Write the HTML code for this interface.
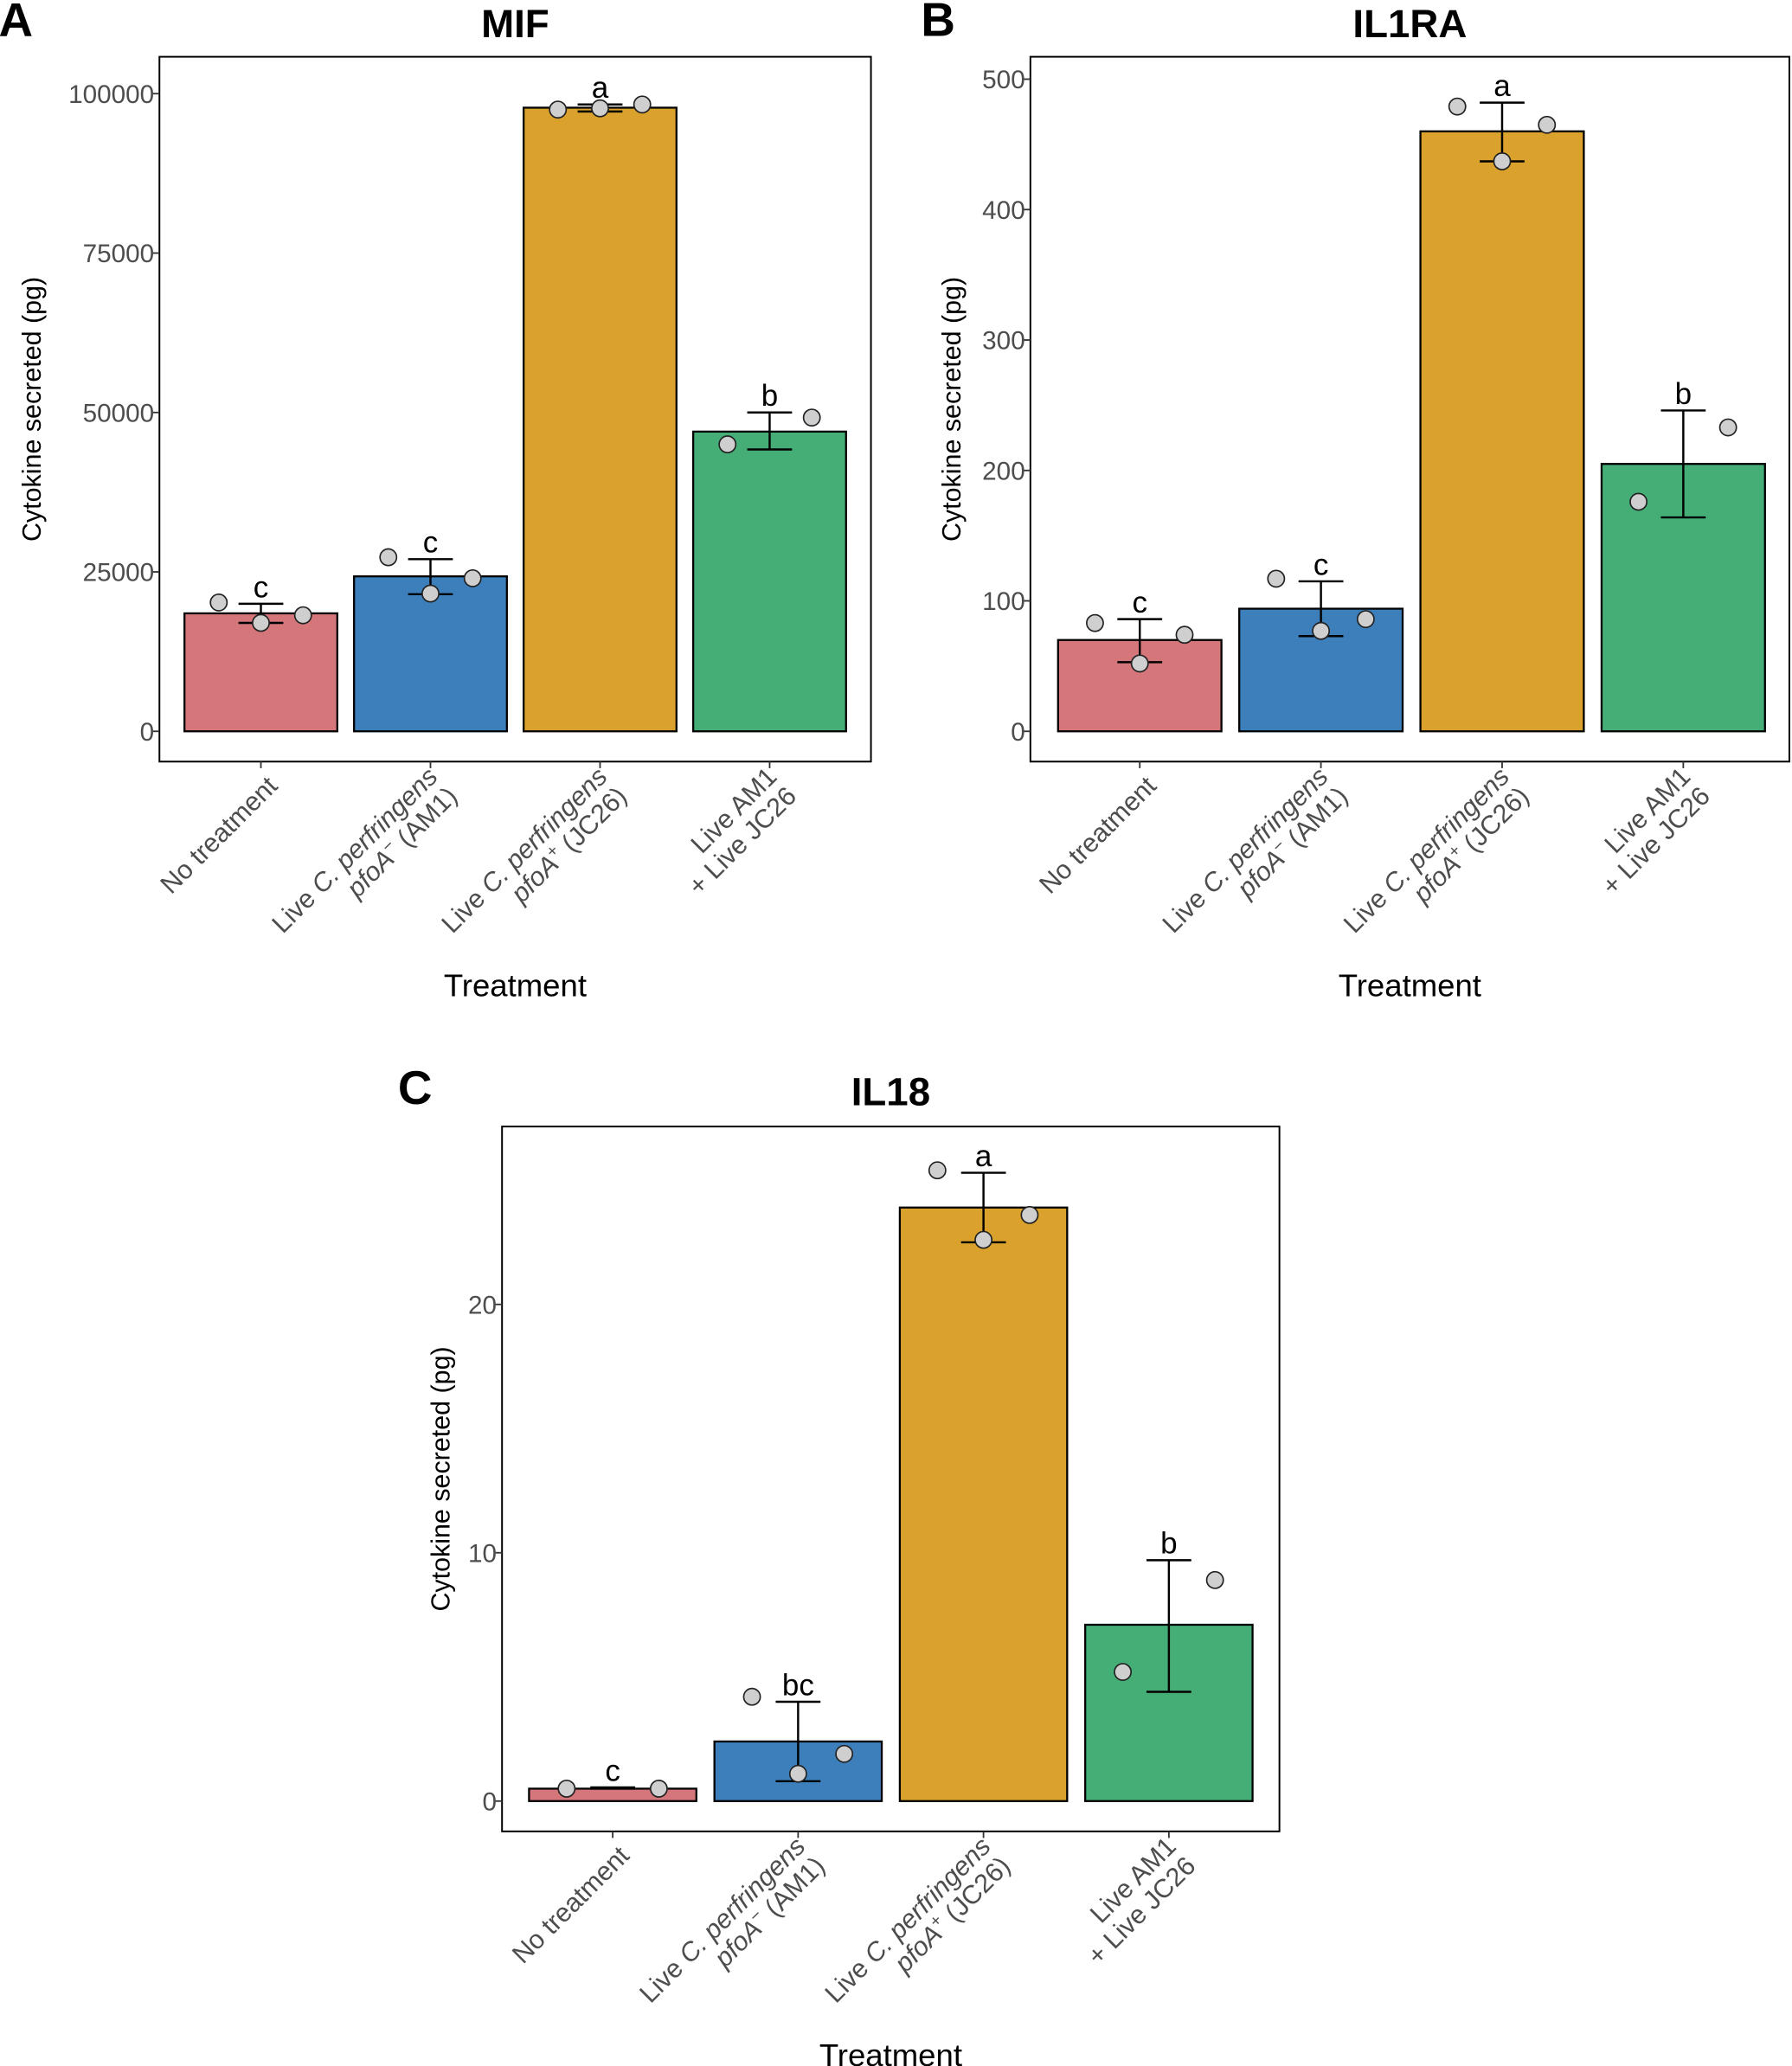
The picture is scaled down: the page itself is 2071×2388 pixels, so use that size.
<!DOCTYPE html>
<html><head><meta charset="utf-8"><style>
html,body{margin:0;padding:0;background:#fff}
svg{display:block}
text{font-family:"Liberation Sans","DejaVu Sans",sans-serif}
</style></head><body>
<svg id="fig" width="2071" height="2388" viewBox="0 0 1360 1568" xmlns="http://www.w3.org/2000/svg"></svg>
<script>
const categories = ["No treatment","Live C. perfringens pfoA- (AM1)","Live C. perfringens pfoA+ (JC26)","Live AM1 + Live JC26"];
const colors = ["#D4767A","#3D7FBB","#DAA22C","#45AE77"];
// MIF
const mifMeans = [18500, 24300, 97800, 47000];
const mifLow = [17000, 21500, 97200, 44200];
const mifHigh = [20000, 27000, 98300, 50000];
const mifPoints = [[20200,17000,18200],[27300,21600,24000],[97500,97700,98300],[45000,49200]];
const mifLetters = ["c","c","a","b"];
const mifTicks = [0,25000,50000,75000,100000];
// IL1RA
const il1raMeans = [70, 94, 460, 205];
const il1raLow = [53, 73, 437, 164];
const il1raHigh = [86, 115, 482, 246];
const il1raPoints = [[83,52,74],[117,77,86],[479,437,465],[176,233]];
const il1raLetters = ["c","c","a","b"];
const il1raTicks = [0,100,200,300,400,500];
// IL18
const il18Means = [0.5, 2.4, 23.9, 7.1];
const il18Low = [0.5, 0.8, 22.5, 4.4];
const il18High = [0.55, 4.0, 25.3, 9.7];
const il18Points = [[0.5,0.5],[4.2,1.1,1.9],[25.4,22.6,23.6],[5.2,8.9]];
const il18Letters = ["c","bc","a","b"];
const il18Ticks = [0,10,20];

const NS="http://www.w3.org/2000/svg";
const svg=document.getElementById('fig');
function mk(tag,attrs,parent){const e=document.createElementNS(NS,tag);for(const k in attrs)e.setAttribute(k,attrs[k]);(parent||svg).appendChild(e);return e;}

function panel(o){
  const g=mk('g',{});
  
  
  const y=v=>o.y0+(v-0)*(o.yTop-o.y0)/o.vTop;
  const x=i=>o.cx0+i*o.step;
  let t=mk('text',{x:o.labX,y:o.titleY+10,'font-size':36,'font-weight':'bold','text-anchor':'middle'},g);t.textContent=o.label;
  
  t=mk('text',{x:(o.bx0+o.bx1)/2,y:o.titleY+11,'font-size':30,'font-weight':'bold','text-anchor':'middle'},g);t.textContent=o.title;
  
  const box=mk('rect',{x:o.bx0,y:o.by0,width:o.bx1-o.bx0,height:o.by1-o.by0,fill:'none',stroke:'#000','stroke-width':1.3},g);
  
  o.ticks.forEach(v=>{
    mk('line',{x1:o.bx0-5,x2:o.bx0,y1:y(v),y2:y(v),stroke:'#333','stroke-width':1.2},g);
    const tt=mk('text',{x:o.bx0-4,y:y(v)+7,'font-size':19.5,fill:'#4d4d4d','text-anchor':'end'},g);tt.textContent=v;
    
  });
  const yt=mk('text',{transform:`translate(${o.bx0-o.ytOff},${(o.by0+o.by1)/2}) rotate(-90)`,'font-size':20,'text-anchor':'middle'},g);
  yt.textContent='Cytokine secreted (pg)';
  
  const xt=mk('text',{x:(o.bx0+o.bx1)/2,y:o.by1+178,'font-size':24,'text-anchor':'middle'},g);
  xt.textContent='Treatment';
  
  categories.forEach((c,i)=>{
    const cx=x(i);
    const bar=mk('rect',{x:cx-o.bw/2,y:y(o.means[i]),width:o.bw,height:y(0)-y(o.means[i]),fill:colors[i],stroke:'#000','stroke-width':1.5},g);
    
    const e=mk('g',{stroke:'#000','stroke-width':1.6},g);
    
    mk('line',{x1:cx,x2:cx,y1:y(o.low[i]),y2:y(o.high[i])},e);
    mk('line',{x1:cx-17,x2:cx+17,y1:y(o.low[i]),y2:y(o.low[i])},e);
    mk('line',{x1:cx-17,x2:cx+17,y1:y(o.high[i]),y2:y(o.high[i])},e);
    const pts=o.points[i];
    pts.forEach((v,j)=>{
      const off=pts.length===3?(j-1)*o.jit:(j===0?-o.jit:o.jit);
      const p=mk('circle',{cx:cx+off,cy:y(v),r:6.3,fill:'#cfcfcf',stroke:'#222','stroke-width':1.1},g);
      
    });
    const lt=mk('text',{x:cx,y:y(o.high[i])-5,'font-size':23,'text-anchor':'middle'},g);lt.textContent=o.letters[i];
    
    mk('line',{x1:cx,x2:cx,y1:o.by1,y2:o.by1+5,stroke:'#333','stroke-width':1.2},g);
    const lg=mk('g',{transform:`translate(${cx+8},${o.by1+14}) rotate(-45)`,'font-size':20,fill:'#4d4d4d','text-anchor':'end'},g);
    
    if(i===0){mk('text',{x:0,y:8},lg).textContent='No treatment';}
    else if(i===3){mk('text',{x:0,y:-2},lg).textContent='Live AM1';mk('text',{x:0,y:19},lg).textContent='+ Live JC26';}
    else{
      const a=mk('text',{x:0,y:-2},lg);a.innerHTML='Live <tspan font-style="italic">C. perfringens</tspan>';
      const b=mk('text',{x:0,y:19},lg);
      b.innerHTML='<tspan font-style="italic">pfoA</tspan><tspan font-size="13" dy="-8">'+(i===1?'−':'+')+'</tspan><tspan dy="8"> '+(i===1?'(AM1)':'(JC26)')+'</tspan>';
    }
  });
}
panel({key:'mif',label:'A',labX:12,title:'MIF',titleY:17,bx0:121,bx1:661,by0:43,by1:578,y0:555,yTop:71,vTop:100000,
  cx0:198,step:128.7,bw:116,jit:32,ticks:mifTicks,means:mifMeans,low:mifLow,high:mifHigh,points:mifPoints,letters:mifLetters,ytOff:90});
panel({key:'il1ra',label:'B',labX:712,title:'IL1RA',titleY:17,bx0:782,bx1:1358,by0:43,by1:578,y0:555,yTop:60,vTop:500,
  cx0:865,step:137.5,bw:124,jit:34,ticks:il1raTicks,means:il1raMeans,low:il1raLow,high:il1raHigh,points:il1raPoints,letters:il1raLetters,ytOff:53});
panel({key:'il18',label:'C',labX:315,title:'IL18',titleY:828,bx0:381,bx1:971,by0:855,by1:1390,y0:1367,yTop:990,vTop:20,
  cx0:465,step:140.7,bw:127,jit:35,ticks:il18Ticks,means:il18Means,low:il18Low,high:il18High,points:il18Points,letters:il18Letters,ytOff:40});
</script>
</body></html>
